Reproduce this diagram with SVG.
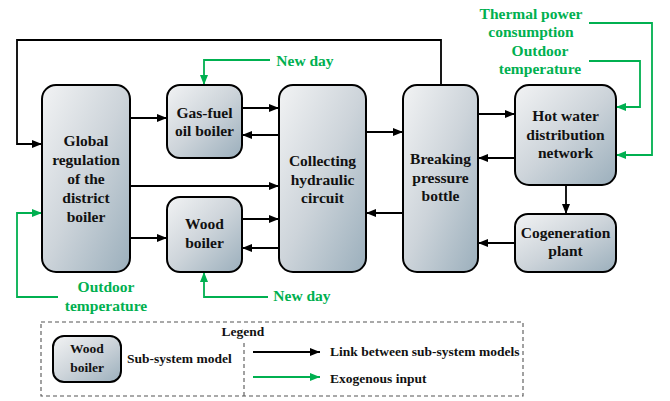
<svg xmlns="http://www.w3.org/2000/svg" width="670" height="401" viewBox="0 0 670 401" font-family="Liberation Serif, Times New Roman, serif">
<defs>
<linearGradient id="g" x1="0" y1="0" x2="1" y2="1">
<stop offset="0" stop-color="#f2f3f4"/>
<stop offset="0.5" stop-color="#cdd4da"/>
<stop offset="1" stop-color="#9bafbc"/>
</linearGradient>
<marker id="ab" markerWidth="10" markerHeight="8" refX="10" refY="4" orient="auto" markerUnits="userSpaceOnUse">
<path d="M0,0 L10,4 L0,8 z" fill="#000"/>
</marker>
<marker id="ag" markerWidth="10" markerHeight="8" refX="10" refY="4" orient="auto" markerUnits="userSpaceOnUse">
<path d="M0,0 L10,4 L0,8 z" fill="#00b050"/>
</marker>
</defs>
<style>
.box{fill:url(#g);stroke:#000;stroke-width:2}
text{font-family:'Liberation Serif','Times New Roman',Times,serif;font-weight:bold}
.t{font-size:15.5px;fill:#111;text-anchor:middle}
.gt{font-size:15.5px;fill:#00b050;text-anchor:middle}
.lt{font-size:13.5px;fill:#111}
.bl{fill:none;stroke:#000;stroke-width:1.8;marker-end:url(#ab)}
.gl{fill:none;stroke:#00b050;stroke-width:1.8;marker-end:url(#ag)}
.dash{fill:none;stroke:#555;stroke-width:1.1;stroke-dasharray:4 3}
</style>

<g id="connectors">
<path class="bl" d="M441,85 V40 H17 V144 H42"/>
<path class="bl" d="M130,118 H167"/>
<path class="bl" d="M242,108 H279"/>
<path class="bl" d="M279,135 H242"/>
<path class="bl" d="M130,186 H279"/>
<path class="bl" d="M130,238 H167"/>
<path class="bl" d="M242,219 H279"/>
<path class="bl" d="M279,248 H242"/>
<path class="bl" d="M366,132 H403"/>
<path class="bl" d="M403,213 H366"/>
<path class="bl" d="M478,114 H515"/>
<path class="bl" d="M515,158 H478"/>
<path class="bl" d="M566,185 V214"/>
<path class="bl" d="M515,243 H478"/>
<path class="gl" d="M270,60 H204 V85"/>
<path class="gl" d="M268,297 H204 V272"/>
<path class="gl" d="M58,297 H17 V213 H42"/>
<path class="gl" d="M589,23 H652 V155 H616"/>
<path class="gl" d="M589,61 H640 V107 H616"/>
</g>

<g id="global">
<rect class="box" x="42" y="85" width="88" height="187" rx="14"/>
<text class="t" x="86" y="146">Global</text>
<text class="t" x="86" y="165">regulation</text>
<text class="t" x="86" y="184">of the</text>
<text class="t" x="86" y="203">district</text>
<text class="t" x="86" y="222">boiler</text>
</g>
<g id="gasfuel">
<rect class="box" x="167" y="85" width="75" height="73" rx="13"/>
<text class="t" x="204.5" y="118">Gas-fuel</text>
<text class="t" x="204.5" y="136">oil boiler</text>
</g>
<g id="wood">
<rect class="box" x="167" y="197" width="75" height="75" rx="13"/>
<text class="t" x="204.5" y="229">Wood</text>
<text class="t" x="204.5" y="248">boiler</text>
</g>
<g id="collecting">
<rect class="box" x="279" y="85" width="87" height="187" rx="14"/>
<text class="t" x="322.5" y="166">Collecting</text>
<text class="t" x="322.5" y="185">hydraulic</text>
<text class="t" x="322.5" y="203">circuit</text>
</g>
<g id="breaking">
<rect class="box" x="403" y="85" width="75" height="187" rx="14"/>
<text class="t" x="440.5" y="164">Breaking</text>
<text class="t" x="440.5" y="183">pressure</text>
<text class="t" x="440.5" y="201">bottle</text>
</g>
<g id="hotwater">
<rect class="box" x="515" y="85" width="101" height="100" rx="14"/>
<text class="t" x="565.5" y="121">Hot water</text>
<text class="t" x="565.5" y="140">distribution</text>
<text class="t" x="565.5" y="158">network</text>
</g>
<g id="cogeneration">
<rect class="box" x="515" y="214" width="101" height="58" rx="13"/>
<text class="t" x="565.5" y="238">Cogeneration</text>
<text class="t" x="565.5" y="256">plant</text>
</g>

<g id="inputs">
<text class="gt" x="305" y="66">New day</text>
<text class="gt" x="302" y="301">New day</text>
<text class="gt" x="106" y="292">Outdoor</text>
<text class="gt" x="106" y="311">temperature</text>
<text class="gt" x="531" y="19">Thermal power</text>
<text class="gt" x="531" y="37">consumption</text>
<text class="gt" x="540" y="56">Outdoor</text>
<text class="gt" x="540" y="74">temperature</text>
</g>

<g id="legend">
<rect class="dash" x="41" y="322" width="482" height="74"/>
<path class="dash" d="M244,343 V396"/>
<text class="lt" x="243" y="336" text-anchor="middle">Legend</text>
<rect class="box" x="53" y="336" width="68" height="46" rx="11"/>
<text class="lt" x="87" y="353" text-anchor="middle">Wood</text>
<text class="lt" x="87" y="372" text-anchor="middle">boiler</text>
<text class="lt" x="127" y="363">Sub-system model</text>
<path class="bl" d="M253,352 H320"/>
<text class="lt" x="330" y="356">Link between sub-system models</text>
<path class="gl" d="M253,377 H320"/>
<text class="lt" x="330" y="383">Exogenous input</text>
</g>
</svg>
